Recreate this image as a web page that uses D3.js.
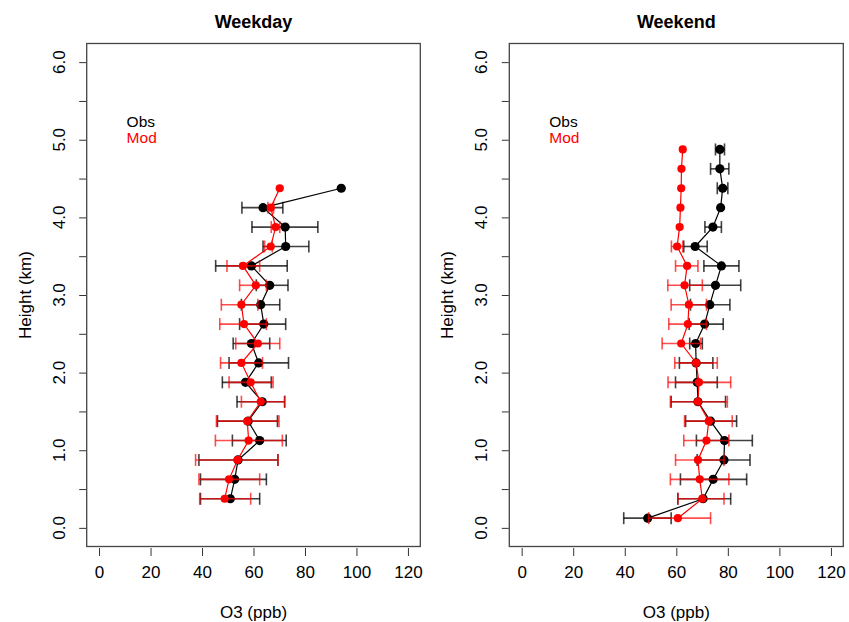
<!DOCTYPE html>
<html>
<head>
<meta charset="utf-8">
<script src="https://cdn.jsdelivr.net/npm/d3@7"></script>
<style>
  body { margin: 0; background: #fff; }
  text { font-family: "Liberation Sans", Arial, Helvetica, sans-serif; }
</style>
</head>
<body>
<div id="chart"></div>
<script>
// Weekday profile (heights in km, O3 in ppb)
const wdHeight = [0.375, 0.625, 0.875, 1.125, 1.375, 1.625, 1.875, 2.125, 2.375, 2.625, 2.875, 3.125, 3.375, 3.625, 3.875, 4.125, 4.375];
const wdObs   = [51.0, 52.7, 54.0, 62.4, 57.9, 63.4, 56.9, 62.0, 59.2, 64.0, 62.8, 66.3, 59.2, 72.5, 72.3, 63.7, 94.1];
const wdObsLo = [39.4, 39.4, 38.8, 51.8, 46.0, 53.6, 47.9, 50.5, 52.1, 54.6, 55.3, 61.1, 45.3, 63.7, 59.4, 55.5, null];
const wdObsHi = [62.4, 65.0, 69.5, 72.7, 69.3, 72.1, 66.9, 73.6, 66.3, 72.5, 70.2, 73.4, 73.1, 81.5, 85.0, 71.4, null];
const wdMod   = [48.8, 50.5, 53.8, 58.1, 57.6, 62.8, 58.9, 55.3, 61.7, 56.3, 55.3, 60.9, 55.9, 66.7, 68.6, 66.7, 70.2];
const wdModLo = [39.1, 38.8, 37.5, 45.2, 45.6, 55.3, 50.5, 47.2, 53.1, 46.9, 47.5, 54.6, 49.7, 64.3, 66.9, 65.6, null];
const wdModHi = [58.9, 62.4, 69.5, 71.2, 69.9, 72.1, 67.6, 63.5, 70.2, 65.0, 61.7, 65.0, 62.4, 67.3, 70.2, 67.8, null];

// Weekend profile
const weHeight = [0.125, 0.375, 0.625, 0.875, 1.125, 1.375, 1.625, 1.875, 2.125, 2.375, 2.625, 2.875, 3.125, 3.375, 3.625, 3.875, 4.125, 4.375, 4.625, 4.875];
const weObs   = [48.9, 70.4, 74.3, 78.5, 78.7, 73.3, 68.4, 68.1, 67.7, 67.5, 71.0, 73.0, 75.2, 77.5, 67.3, 74.2, 77.2, 78.0, 76.9, 76.9];
const weObsLo = [39.6, 60.6, 61.6, 68.1, 67.8, 63.6, 58.0, 59.7, 61.2, 65.2, 65.0, 65.5, 65.2, 70.7, 62.9, 71.1, null, 75.9, 73.3, 75.2];
const weObsHi = [58.0, 81.1, 87.3, 88.6, 89.5, 83.4, 79.1, 75.9, 74.2, 70.1, 78.2, 80.8, 85.0, 84.3, 72.0, 77.5, null, 80.0, 80.4, 78.7];
const weMod   = [60.6, 70.1, 69.1, 68.4, 71.7, 72.6, 68.4, 68.8, 67.7, 61.9, 64.5, 64.9, 63.2, 64.2, 60.3, 61.3, 61.6, 61.9, 62.0, 62.5];
const weModLo = [49.3, 60.6, 57.7, 59.7, 62.9, 63.2, 57.7, 56.8, 59.4, 54.5, 57.1, 58.0, 56.7, 59.7, 58.1, null, null, null, null, null];
const weModHi = [73.3, 78.5, 80.4, 78.5, 80.4, 81.7, 79.8, 81.1, 75.9, 69.4, 71.7, 71.7, 70.1, 68.4, 62.5, null, null, null, null, null];

const titles = ["Weekday", "Weekend"];
const xTicks = [0, 20, 40, 60, 80, 100, 120];
const yTicks = [0, 0.5, 1, 1.5, 2, 2.5, 3, 3.5, 4, 4.5, 5, 5.5, 6];
const yLabels = [0, 1, 2, 3, 4, 5, 6];
const seriesNames = ["Obs", "Mod"];
const seriesColors = ["#000000", "#ff0000"];

const W = 849, H = 622;
const boxTop = 43.5, boxBottom = 546.5;

const svg = d3.select("#chart").append("svg")
    .attr("width", W)
    .attr("height", H);

function drawPanel(left, right, title, height, sets) {
    const g = svg.append("g");
    const x = d3.scaleLinear().domain([-4.8, 124.8]).range([left, right]);
    const y = d3.scaleLinear().domain([-0.24, 6.24]).range([boxBottom, boxTop]);

    // title
    g.append("text")
        .attr("x", (left + right) / 2).attr("y", 28)
        .attr("text-anchor", "middle")
        .style("font-size", "18px").style("font-weight", "bold")
        .text(title);

    // x axis
    const xa = g.append("g")
        .attr("transform", `translate(0,${boxBottom + 1.5})`)
        .call(d3.axisBottom(x).tickValues(xTicks).tickSize(8).tickSizeOuter(0).tickPadding(10));
    xa.select(".domain").remove();
    xa.selectAll("line").attr("stroke", "#333");
    xa.selectAll("text").style("font-size", "17px").attr("fill", "#000").attr("font-family", null);

    // y axis: ticks every 0.5, labels on integers
    const ya = g.append("g")
        .attr("transform", `translate(${left - 0.5},0)`)
        .call(d3.axisLeft(y).tickValues(yTicks).tickSize(7).tickSizeOuter(0).tickFormat(() => ""));
    ya.select(".domain").remove();
    ya.selectAll("line").attr("stroke", "#333");
    g.selectAll(".ylab").data(yLabels).enter().append("text")
        .attr("class", "ylab")
        .attr("transform", d => `translate(${left - 22},${y(d)}) rotate(-90)`)
        .attr("text-anchor", "middle")
        .style("font-size", "17px")
        .text(d => d3.format(".1f")(d));

    g.append("text")
        .attr("transform", `translate(${left - 56},${(boxTop + boxBottom) / 2}) rotate(-90)`)
        .attr("text-anchor", "middle")
        .style("font-size", "17px")
        .text("Height (km)");

    g.append("text")
        .attr("x", (left + right) / 2).attr("y", 618)
        .attr("text-anchor", "middle")
        .style("font-size", "17px")
        .text("O3 (ppb)");

    // legend
    seriesNames.forEach((s, i) => {
        g.append("text")
            .attr("x", x(10.7)).attr("y", y(5.17) + i * 16.6)
            .style("font-size", "15.5px")
            .attr("fill", seriesColors[i])
            .text(s);
    });

    // series: obs first, mod on top
    sets.forEach((s, k) => {
        const col = seriesColors[k];
        const pts = height.map((h, i) => ({ h: h, v: s.v[i], lo: s.lo[i], hi: s.hi[i] }));
        const eb = g.append("g")
            .attr("stroke", col)
            .attr("stroke-opacity", k == 0 ? 0.75 : 0.7)
            .attr("stroke-width", 1.6);
        pts.filter(d => d.lo != null).forEach(d => {
            eb.append("line").attr("x1", x(d.lo)).attr("x2", x(d.hi)).attr("y1", y(d.h)).attr("y2", y(d.h));
            eb.append("line").attr("x1", x(d.lo)).attr("x2", x(d.lo)).attr("y1", y(d.h) - 6).attr("y2", y(d.h) + 6);
            eb.append("line").attr("x1", x(d.hi)).attr("x2", x(d.hi)).attr("y1", y(d.h) - 6).attr("y2", y(d.h) + 6);
        });
        g.append("path")
            .datum(pts)
            .attr("fill", "none")
            .attr("stroke", col)
            .attr("stroke-width", 1.2)
            .attr("d", d3.line().x(d => x(d.v)).y(d => y(d.h)));
        g.selectAll(".pt" + k).data(pts).enter().append("circle")
            .attr("class", "pt" + k)
            .attr("cx", d => x(d.v))
            .attr("cy", d => y(d.h))
            .attr("r", k == 0 ? 4.6 : 4.1)
            .attr("fill", col);
    });

    // box
    g.append("rect")
        .attr("x", left).attr("y", boxTop)
        .attr("width", right - left).attr("height", boxBottom - boxTop)
        .attr("fill", "none")
        .attr("stroke", "#444")
        .attr("stroke-width", 1.3);
}

drawPanel(86.7, 420.3, titles[0], wdHeight, [
    { v: wdObs, lo: wdObsLo, hi: wdObsHi },
    { v: wdMod, lo: wdModLo, hi: wdModHi }
]);
drawPanel(509.3, 843.3, titles[1], weHeight, [
    { v: weObs, lo: weObsLo, hi: weObsHi },
    { v: weMod, lo: weModLo, hi: weModHi }
]);
</script>
</body>
</html>
